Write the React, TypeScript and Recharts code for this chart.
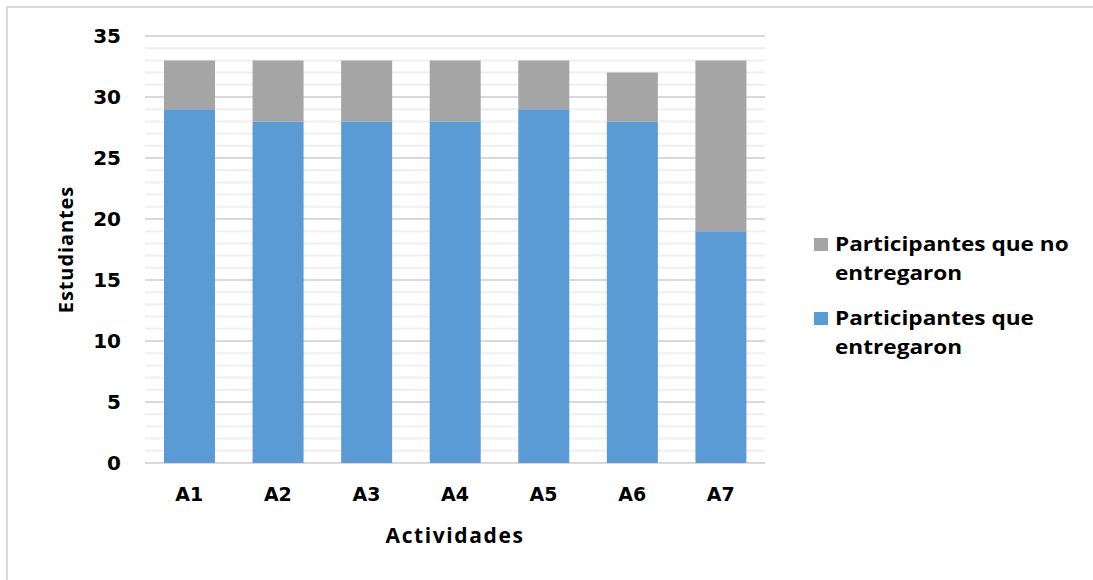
import React from 'react';
import {
  BarChart,
  Bar,
  XAxis,
  YAxis,
  CartesianGrid,
  Legend,
  Label
} from 'recharts';

const activities = ['A1', 'A2', 'A3', 'A4', 'A5', 'A6', 'A7'];
const delivered = [29, 28, 28, 28, 29, 28, 19];
const notDelivered = [4, 5, 5, 5, 4, 4, 14];
const yTicks = [0, 5, 10, 15, 20, 25, 30, 35];
const minorTicks = [
  1, 2, 3, 4, 6, 7, 8, 9, 11, 12, 13, 14, 16, 17, 18, 19,
  21, 22, 23, 24, 26, 27, 28, 29, 31, 32, 33, 34
];
const Y_MAX = 35;

const BLUE = '#5b9bd5';
const GRAY = '#a5a5a5';

const data = activities.map((name, i) => ({
  name,
  entregaron: delivered[i],
  noEntregaron: notDelivered[i]
}));

const legendItems = [
  { color: GRAY, lines: ['Participantes que no', 'entregaron'] },
  { color: BLUE, lines: ['Participantes que', 'entregaron'] }
];

const titleFont = '"Open Sans", sans-serif';
const tickFont = '"DejaVu Sans", sans-serif';

const LegendContent = () => (
  <div style={{ fontFamily: titleFont, fontWeight: 700, fontSize: 20, color: '#000' }}>
    {legendItems.map((item) => (
      <div key={item.color} style={{ display: 'flex', alignItems: 'flex-start', marginBottom: 16 }}>
        <div style={{ width: 14, height: 13, background: item.color, marginTop: 9, marginRight: 7, flexShrink: 0 }} />
        <div
          style={{
            lineHeight: '29px',
            whiteSpace: 'nowrap',
            transform: 'scaleX(1.13)',
            transformOrigin: 'left center'
          }}
        >
          {item.lines.map((l) => (
            <div key={l}>{l}</div>
          ))}
        </div>
      </div>
    ))}
  </div>
);

// minor gridlines, one per unit; use the axis scale when the grid hands one over
const minorGrid = ({ yAxis, offset }: any) => {
  const s = yAxis && yAxis.scale;
  return minorTicks.map((v) => {
    if (typeof s === 'function') return s(v);
    if (s && typeof s.map === 'function') return s.map(v);
    return offset.top + offset.height * (1 - v / Y_MAX);
  });
};

export default function App() {
  return (
    <div style={{ position: 'fixed', left: 0, top: 0, width: 1093, height: 580, background: '#fff', overflow: 'hidden' }}>
      <div
        style={{
          position: 'absolute',
          left: 6,
          top: 6,
          width: 1200,
          height: 700,
          borderTop: '2px solid #d9d9d9',
          borderLeft: '2px solid #d9d9d9'
        }}
      />
      <div style={{ position: 'absolute', left: 0, top: 0 }}>
        <BarChart
          width={1093}
          height={580}
          data={data}
          margin={{ top: 36, right: 328, bottom: 0, left: 0 }}
        >
          <CartesianGrid
            vertical={false}
            stroke="#efefef"
            strokeWidth={2}
            horizontalCoordinatesGenerator={minorGrid}
          />
          <CartesianGrid vertical={false} stroke="#d9d9d9" strokeWidth={2} />
          <XAxis
            dataKey="name"
            height={117}
            axisLine={false}
            tickLine={false}
            tickSize={0}
            tickMargin={25}
            tick={{ fontFamily: tickFont, fontWeight: 700, fontSize: 19, fill: '#000' }}
          >
            <Label
              value="Actividades"
              position="insideBottom"
              offset={37}
              style={{ fontFamily: titleFont, fontWeight: 700, fontSize: 21, letterSpacing: 1.6, fill: '#000' }}
            />
          </XAxis>
          <YAxis
            width={145}
            domain={[0, Y_MAX]}
            ticks={yTicks}
            interval={0}
            axisLine={false}
            tickLine={false}
            tickSize={0}
            tickMargin={24}
            tick={{ fontFamily: tickFont, fontWeight: 700, fontSize: 20, fill: '#000' }}
          >
            <Label
              value="Estudiantes"
              position="center"
              angle={-90}
              dx={-7}
              style={{ fontFamily: titleFont, fontWeight: 700, fontSize: 20, letterSpacing: 0.9, fill: '#000', textAnchor: 'middle' }}
            />
          </YAxis>
          <Legend
            layout="vertical"
            align="center"
            verticalAlign="middle"
            content={<LegendContent />}
            wrapperStyle={{ position: 'absolute', left: 814, top: 229, width: 280 }}
          />
          <Bar dataKey="entregaron" stackId="a" fill={BLUE} barSize={51} isAnimationActive={false} />
          <Bar dataKey="noEntregaron" stackId="a" fill={GRAY} barSize={51} isAnimationActive={false} />
        </BarChart>
      </div>
    </div>
  );
}
